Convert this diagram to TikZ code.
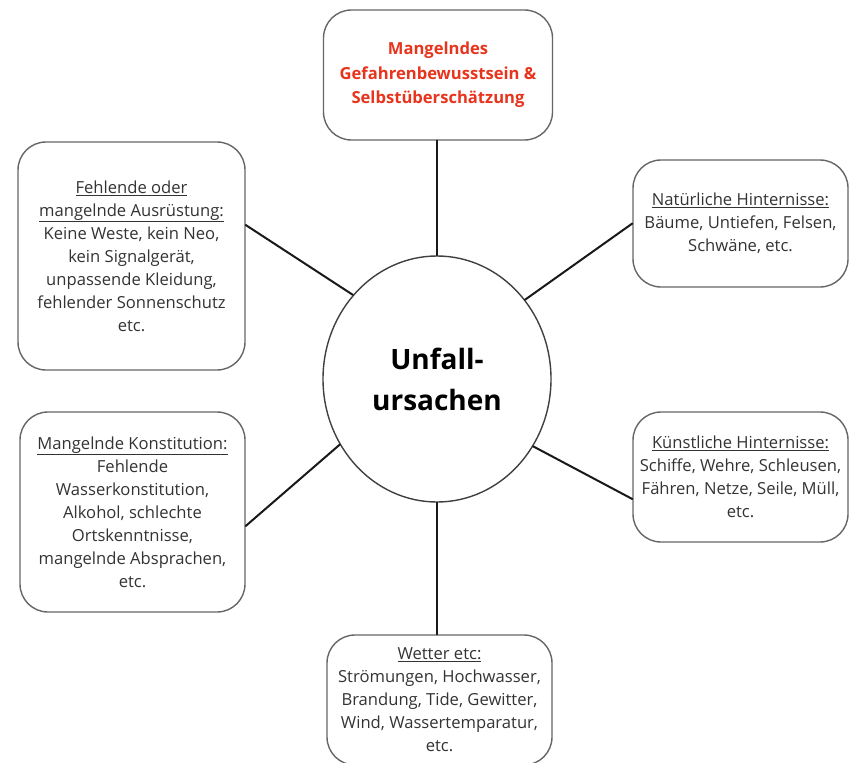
\documentclass[tikz,border=0pt]{standalone}
\usepackage{fontspec}
\setmainfont{Open Sans}
\usetikzlibrary{shapes.geometric}
\definecolor{warnrot}{HTML}{E8341C}
\begin{document}
\begin{tikzpicture}[x=1pt,y=-1pt,line join=round,line cap=round,
	font=\fontsize{16.6}{23}\selectfont,text=black!80,
	kasten/.style={draw=black!60,line width=1.4pt,rounded corners=28pt,align=center,inner sep=0pt},
	linie/.style={line width=2pt,black!90}]
	\clip (0,0) rectangle (850,762);
	\fill[white] (0,0) rectangle (850,762);
	\path 
	(437,379) node[ellipse,draw=black!75,line width=1.4pt,minimum width=228,minimum height=246,inner sep=0pt,align=center,text=black,font=\fontsize{28}{41}\selectfont\bfseries] (mitte) {Unfall-\\ursachen}
	(438,75) node[kasten,minimum width=229,minimum height=130,text=warnrot,font=\fontsize{16.6}{24.5}\selectfont\bfseries] (oben) {Mangelndes\\Gefahrenbewusstsein \&\\Selbstüberschätzung}
	(131.5,256) node[kasten,minimum width=227,minimum height=228] (lo) {\underline{Fehlende oder}\\\underline{mangelnde Ausrüstung:}\\Keine Weste, kein Neo,\\kein Signalgerät,\\unpassende Kleidung,\\fehlender Sonnenschutz\\etc.}
	(740.5,223.5) node[kasten,minimum width=215,minimum height=127] (ro) {\underline{Natürliche Hinternisse:}\\Bäume, Untiefen, Felsen,\\Schwäne, etc.}
	(132.5,512) node[kasten,minimum width=225,minimum height=200] (lu) {\underline{Mangelnde Konstitution:}\\Fehlende\\Wasserkonstitution,\\Alkohol, schlechte\\Ortskenntnisse,\\mangelnde Absprachen,\\etc.}
	(740.5,477) node[kasten,minimum width=215,minimum height=130] (ru) {\underline{Künstliche Hinternisse:}\\Schiffe, Wehre, Schleusen,\\Fähren, Netze, Seile, Müll,\\etc.}
	(439.5,700) node[kasten,minimum width=225,minimum height=130] (unten) {\underline{Wetter etc:}\\Strömungen, Hochwasser,\\Brandung, Tide, Gewitter,\\Wind, Wassertemparatur,\\etc.};
	% Verbindungen
	\draw[linie] (mitte.north)--(mitte.north |- oben.south);
	\draw[linie] (mitte.south)--(mitte.south |- unten.north);
	\draw[linie] ([yshift=31pt]lo.east)--(mitte.135.5);
	\draw[linie] (mitte.42)--(ro.west);
	\draw[linie] ([yshift=-14pt]lu.east)--(mitte.214.5);
	\draw[linie] (mitte.325.5)--([yshift=-22pt]ru.west);
\end{tikzpicture}
\end{document}
